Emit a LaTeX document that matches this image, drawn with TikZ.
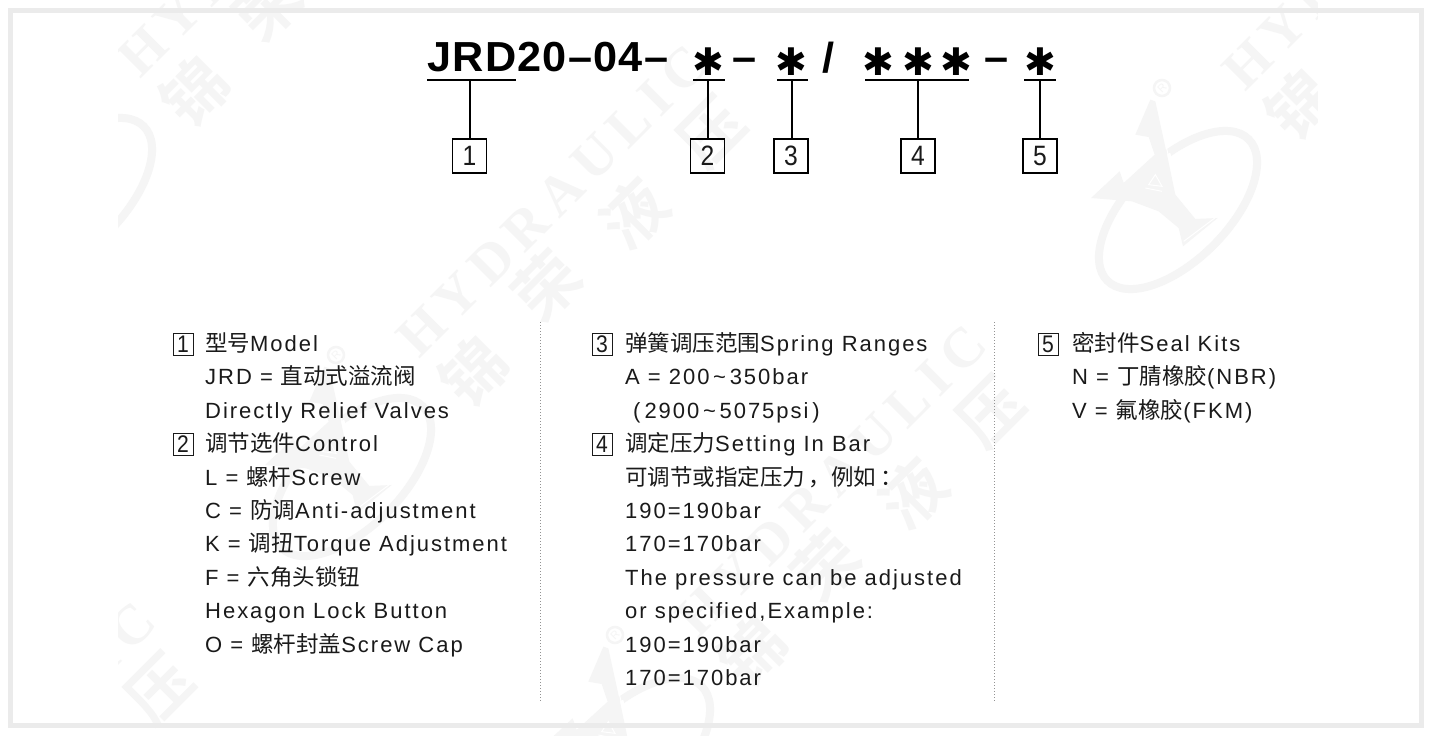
\documentclass[tikz,border=0pt]{standalone}
\usepackage{fontspec}
\setmainfont{Liberation Sans}[LetterSpace=9]
\newfontfamily\cjkf{Noto Sans CJK SC}
\newfontfamily\cjkb{Noto Sans CJK SC Bold}
\newfontfamily\titlef{Liberation Sans Bold}[LetterSpace=3,FakeStretch=1.03]
\newfontfamily\plainf{Liberation Sans}
\newfontfamily\digitf{Liberation Sans}[FakeStretch=.88]
\newfontfamily\wmf{Liberation Serif Bold}[LetterSpace=15]
\newfontfamily\starf{DejaVu Sans Bold}
\newcommand\zh[1]{{\cjkf\fontsize{22.5}{22.5}\selectfont #1}}
\definecolor{wmc}{HTML}{F5F5F5}
\definecolor{framec}{HTML}{EBEBEB}
\definecolor{inkc}{HTML}{1A1A1A}
\tikzset{
  body/.style={anchor=base west,inner sep=0pt,text=inkc,font=\fontsize{22}{22}\selectfont},
  smallbox/.style={draw=inkc,line width=1pt,minimum width=20pt,minimum height=22pt,inner sep=0pt,text=inkc,font=\digitf\fontsize{24}{24}\selectfont},
  topbox/.style={draw=black,line width=1.3pt,minimum width=34pt,minimum height=34pt,inner sep=0pt,text=inkc,font=\digitf\fontsize{28}{28}\selectfont},
  conn/.style={draw=black,line width=1.3pt},
  titletext/.style={inner sep=0pt,text=black,anchor=base,font=\titlef\fontsize{42}{42}\selectfont},
  startext/.style={inner sep=0pt,text=black,font=\starf\fontsize{38}{38}\selectfont},
  sep/.style={draw=gray!85,line width=1pt,dash pattern=on 1.2pt off 1.8pt},
  wmtext/.style={inner sep=0pt,text=wmc,rotate=45,font=\wmf\fontsize{56}{56}\selectfont},
  wmchar/.style={inner sep=0pt,text=wmc,rotate=45,font=\cjkb\fontsize{64}{64}\selectfont},
  wmr/.style={inner sep=0pt,text=wmc,rotate=45,font=\plainf\fontsize{11}{11}\selectfont}
}
\newcommand\wmtile[2]{%
  \begin{scope}[shift={(#1,#2)}]
    \node[wmtext] at (216,-154) {HYDRAULIC};
    \node[wmchar] at (138,17) {锦};
    \node[wmchar] at (211,-69) {荣};
    \node[wmchar] at (298,-141) {液};
    \node[wmchar] at (376,-222) {压};
    \draw[wmc,line width=2.5pt] (0,0) circle (8pt);
    \node[wmr] at (0,0) {R};
    \draw[wmc,line width=8pt] (16,122) ellipse [x radius=100pt,y radius=50pt,rotate=45];
  \end{scope}
  \begin{scope}[shift={(#1,#2)},x=.3333pt,y=-.3333pt]
    \begin{scope}[shift={(-305,-205)}]
      \fill[white] (240,420)--(330,400)--(380,600)--(300,620)--(200,560)--cycle;
      \fill[wmc] (270,240)--(225,345)--(265,352)--(283,405)--(190,490)--(178,455)--(92,535)--(215,545)--(295,575)--(355,625)--(368,680)--(472,595)--(405,598)--(345,525)--(322,415)--(285,245)--cycle;
      \draw[white,line width=1pt] (290,250)--(322,400)--(352,520)--(412,590);
      \draw[white,line width=1pt] (255,505)--(305,515) (285,465)--(265,495)--(305,500)--cycle;
      \draw[white,line width=1pt] (370,665)--(470,590);
    \end{scope}
  \end{scope}
}
\begin{document}
\begin{tikzpicture}[x=1pt,y=-1pt]
\useasboundingbox (0,0) rectangle (1435,736);
\fill[white] (0,0) rectangle (1435,736);
% watermark
\begin{scope}
  \clip (118,0) rectangle (1317,736);
  \wmtile{57}{75}
  \wmtile{336}{355}
  \wmtile{615}{635}
  \wmtile{1162}{88}
  \wmtile{-216}{912}
\end{scope}
\draw[framec,line width=5pt] (10.5,10.5) rectangle (1421,725.5);
% title
\node[titletext,anchor=base west] (title) at (427,71) {JRD20–04–};
\node[startext] (s1) at (708,62) {✱};
\node[titletext] (d1) at (745,71) {–};
\node[startext] (s2) at (791,62) {✱};
\node[titletext] (sl) at (828,72) {/};
\node[startext] (s3) at (878,62) {✱};
\node[startext] (s4) at (918,62) {✱};
\node[startext] (s5) at (956,62) {✱};
\node[titletext] (d2) at (997,71) {–};
\node[startext] (s6) at (1040,62) {✱};
% boxes
\node[topbox] (b1) at (469.5,156) {1};
\node[topbox] (b2) at (707.5,156) {2};
\node[topbox] (b3) at (791,156) {3};
\node[topbox] (b4) at (918,156) {4};
\node[topbox] (b5) at (1040,156) {5};
% underlines
\coordinate (u1) at (470,80);
\coordinate (u2) at (708,80);
\coordinate (u3) at (792,80);
\coordinate (u4) at (918,80);
\coordinate (u5) at (1040,80);
\coordinate (u1a) at (427,80); \coordinate (u1b) at (516,80);
\coordinate (u2a) at (693,80); \coordinate (u2b) at (725,80);
\coordinate (u3a) at (777,80); \coordinate (u3b) at (808,80);
\coordinate (u4a) at (865,80); \coordinate (u4b) at (969,80);
\coordinate (u5a) at (1024,80); \coordinate (u5b) at (1056,80);
\foreach \i in {1,...,5}{
  \draw[conn] (u\i a) -- (u\i b);
  \draw[conn] (u\i) -- (u\i |- b\i.north);
}
% separators
\coordinate (p1) at (540,322); \coordinate (p2) at (540,701);
\coordinate (q1) at (994,322); \coordinate (q2) at (994,701);
\draw[sep] (p1) -- (p2);
\draw[sep] (q1) -- (q2);
% column 1
\node[smallbox] (k1) at (183,344) {1};
\node[body] (a0) at (205,351.5) {\zh{型号}Model};
\node[body] (a1) at (205,384.9) {JRD = \zh{直动式溢流阀}};
\node[body] (a2) at (205,418.3) {Directly Relief Valves};
\node[smallbox] (k2) at (183,444) {2};
\node[body] (a3) at (205,451.7) {\zh{调节选件}Control};
\node[body] (a4) at (205,485.1) {L = \zh{螺杆}Screw};
\node[body] (a5) at (205,518.5) {C = \zh{防调}Anti-adjustment};
\node[body] (a6) at (205,551.9) {K = \zh{调扭}Torque Adjustment};
\node[body] (a7) at (205,585.3) {F = \zh{六角头锁钮}};
\node[body] (a8) at (205,618.7) {Hexagon Lock Button};
\node[body] (a9) at (205,652.1) {O = \zh{螺杆封盖}Screw Cap};
% column 2
\node[smallbox] (k3) at (602,344) {3};
\node[body] (c0) at (625,351.5) {\zh{弹簧调压范围}Spring Ranges};
\node[body] (c1) at (625,384.9) {A = 200\,\char"7E\,350bar};
\node[body] (c2) at (625,418.3) {\hspace{8pt}(\hspace{4pt}2900\,\char"7E\,5075psi\hspace{4pt})};
\node[smallbox] (k4) at (602,444) {4};
\node[body] (c3) at (625,451.7) {\zh{调定压力}Setting In Bar};
\node[body] (c4) at (625,485.1) {\zh{可调节或指定压力\,，例如\,：}};
\node[body] (c5) at (625,518.5) {190=190bar};
\node[body] (c6) at (625,551.9) {170=170bar};
\node[body] (c7) at (625,585.3) {The pressure can be adjusted};
\node[body] (c8) at (625,618.7) {or specified,Example:};
\node[body] (c9) at (625,652.1) {190=190bar};
\node[body] (c10) at (625,685.5) {170=170bar};
% column 3
\node[smallbox] (k5) at (1048,344) {5};
\node[body] (e0) at (1072,351.5) {\zh{密封件}Seal Kits};
\node[body] (e1) at (1072,384.9) {N = \zh{丁腈橡胶}(NBR)};
\node[body] (e2) at (1072,418.3) {V = \zh{氟橡胶}(FKM)};
\end{tikzpicture}
\end{document}
